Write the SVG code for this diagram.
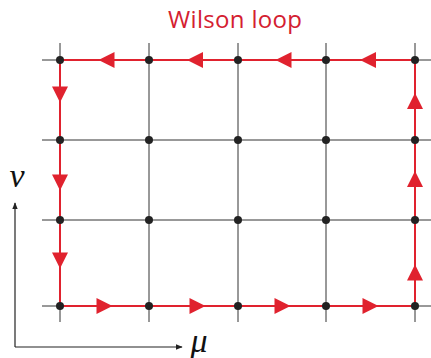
<svg xmlns="http://www.w3.org/2000/svg" xmlns:xlink="http://www.w3.org/1999/xlink" width="431" height="358" viewBox="0 0 431 358">
<style>
.grid{stroke:#333;stroke-width:1;fill:none}
.loop{stroke:#e0222e;stroke-width:2;fill:none}
.tri{fill:#e0222e}
.dot{fill:#222}
.axis{stroke:#222;stroke-width:1.2;fill:none}
.title{font-family:"Open Sans","Liberation Sans",sans-serif;font-size:24px;fill:#d42030}
.sym{font-family:"Liberation Serif",serif;font-style:italic;font-size:34px;fill:#111}
</style>
<defs>
<path id="tri" class="tri" d="M8,0 L-8,-8 L-8,8 Z"/>
<marker id="ah" viewBox="0 0 10 10" refX="9" refY="5" markerWidth="7" markerHeight="7" orient="auto" markerUnits="userSpaceOnUse">
<path d="M0,1 L10,5 L0,9 Z" fill="#222"/>
</marker>
</defs>
<rect width="431" height="358" fill="#fff"/>
<text class="title" x="235" y="28" text-anchor="middle" textLength="134" lengthAdjust="spacing">Wilson loop</text>
<g id="grid">
<line class="grid" x1="42" y1="60" x2="431" y2="60"/>
<line class="grid" x1="42" y1="140" x2="431" y2="140"/>
<line class="grid" x1="42" y1="220" x2="431" y2="220"/>
<line class="grid" x1="42" y1="306" x2="431" y2="306"/>
<line class="grid" x1="60" y1="43" x2="60" y2="322"/>
<line class="grid" x1="149" y1="43" x2="149" y2="322"/>
<line class="grid" x1="238" y1="43" x2="238" y2="322"/>
<line class="grid" x1="326" y1="43" x2="326" y2="322"/>
<line class="grid" x1="415" y1="43" x2="415" y2="322"/>
</g>
<g id="connectors">
<path class="loop" d="M60,60 H415 V306 H60 Z"/>
<use xlink:href="#tri" transform="translate(106.5,60) rotate(180)"/>
<use xlink:href="#tri" transform="translate(195,60) rotate(180)"/>
<use xlink:href="#tri" transform="translate(283.5,60) rotate(180)"/>
<use xlink:href="#tri" transform="translate(368,60) rotate(180)"/>
<use xlink:href="#tri" transform="translate(104.5,306)"/>
<use xlink:href="#tri" transform="translate(197.5,306)"/>
<use xlink:href="#tri" transform="translate(282.5,306)"/>
<use xlink:href="#tri" transform="translate(370.5,306)"/>
<use xlink:href="#tri" transform="translate(60,94.5) rotate(90)"/>
<use xlink:href="#tri" transform="translate(60,182.5) rotate(90)"/>
<use xlink:href="#tri" transform="translate(60,260.5) rotate(90)"/>
<use xlink:href="#tri" transform="translate(415,101) rotate(-90)"/>
<use xlink:href="#tri" transform="translate(415,179) rotate(-90)"/>
<use xlink:href="#tri" transform="translate(415,272.5) rotate(-90)"/>
<path class="axis" d="M15,347 V203" marker-end="url(#ah)"/>
<path class="axis" d="M15,347 H182" marker-end="url(#ah)"/>
</g>
<g id="nodes">
<g id="n00"><circle class="dot" cx="60" cy="60" r="4"/></g>
<g id="n10"><circle class="dot" cx="149" cy="60" r="4"/></g>
<g id="n20"><circle class="dot" cx="238" cy="60" r="4"/></g>
<g id="n30"><circle class="dot" cx="326" cy="60" r="4"/></g>
<g id="n40"><circle class="dot" cx="415" cy="60" r="4"/></g>
<g id="n01"><circle class="dot" cx="60" cy="140" r="4"/></g>
<g id="n11"><circle class="dot" cx="149" cy="140" r="4"/></g>
<g id="n21"><circle class="dot" cx="238" cy="140" r="4"/></g>
<g id="n31"><circle class="dot" cx="326" cy="140" r="4"/></g>
<g id="n41"><circle class="dot" cx="415" cy="140" r="4"/></g>
<g id="n02"><circle class="dot" cx="60" cy="220" r="4"/></g>
<g id="n12"><circle class="dot" cx="149" cy="220" r="4"/></g>
<g id="n22"><circle class="dot" cx="238" cy="220" r="4"/></g>
<g id="n32"><circle class="dot" cx="326" cy="220" r="4"/></g>
<g id="n42"><circle class="dot" cx="415" cy="220" r="4"/></g>
<g id="n03"><circle class="dot" cx="60" cy="306" r="4"/></g>
<g id="n13"><circle class="dot" cx="149" cy="306" r="4"/></g>
<g id="n23"><circle class="dot" cx="238" cy="306" r="4"/></g>
<g id="n33"><circle class="dot" cx="326" cy="306" r="4"/></g>
<g id="n43"><circle class="dot" cx="415" cy="306" r="4"/></g>
</g>
<g id="labels">
<text class="sym" x="17" y="187" text-anchor="middle">ν</text>
<text class="sym" x="199" y="352" text-anchor="middle">μ</text>
</g>
</svg>
